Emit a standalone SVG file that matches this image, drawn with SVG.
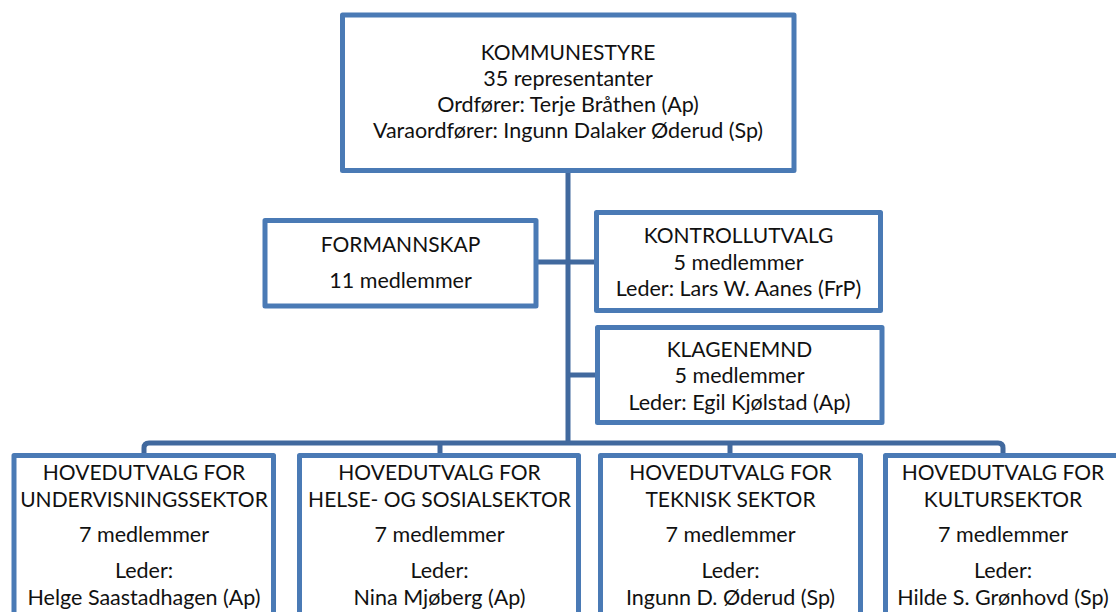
<svg xmlns="http://www.w3.org/2000/svg" width="1116" height="612" viewBox="0 0 1116 612">
<style>
.box{fill:#fff;stroke:#4A7AB5;stroke-width:5;stroke-linejoin:round}
.con{fill:none;stroke:#41699E;stroke-width:5;stroke-linejoin:round}
text{font-family:Lato,"Liberation Sans",Arial,sans-serif;font-size:21.5px;fill:#111;text-anchor:middle}
.u{font-size:21px}
</style>
<rect width="1116" height="612" fill="#fff"/>
<g id="connectors">
<path class="con" d="M568,172 V443"/>
<path class="con" d="M538,262 H594"/>
<path class="con" d="M568,375 H595"/>
<path class="con" d="M144,453 V448 Q144,443 149,443 H998 Q1003,443 1003,448 V453"/>
<path class="con" d="M440,443 V453"/>
<path class="con" d="M730,443 V453"/>
</g>
<g id="kommunestyre">
<rect class="box" x="342.5" y="15" width="451.5" height="155.5"/>
<text class="u" x="568" y="60">KOMMUNESTYRE</text>
<text x="568" y="86">35 representanter</text>
<text x="568" y="112">Ordfører: Terje Bråthen (Ap)</text>
<text x="568" y="138">Varaordfører: Ingunn Dalaker Øderud (Sp)</text>
</g>
<g id="formannskap">
<rect class="box" x="265" y="220.5" width="271" height="85.5"/>
<text class="u" x="400.5" y="252">FORMANNSKAP</text>
<text x="400.5" y="288">11 medlemmer</text>
</g>
<g id="kontrollutvalg">
<rect class="box" x="596.5" y="212.5" width="284" height="98"/>
<text class="u" x="738.5" y="243">KONTROLLUTVALG</text>
<text x="738.5" y="269.5">5 medlemmer</text>
<text x="738.5" y="296">Leder: Lars W. Aanes (FrP)</text>
</g>
<g id="klagenemnd">
<rect class="box" x="597.5" y="327.5" width="284.5" height="95"/>
<text class="u" x="739.5" y="357">KLAGENEMND</text>
<text x="739.5" y="383">5 medlemmer</text>
<text x="739.5" y="409.5">Leder: Egil Kjølstad (Ap)</text>
</g>
<g id="undervisning">
<rect class="box" x="14" y="455.5" width="259.5" height="180"/>
<text class="u" x="144" y="480">HOVEDUTVALG FOR</text>
<text class="u" x="144" y="507">UNDERVISNINGSSEKTOR</text>
<text x="144" y="542">7 medlemmer</text>
<text x="144" y="578">Leder:</text>
<text x="144" y="605">Helge Saastadhagen (Ap)</text>
</g>
<g id="helse">
<rect class="box" x="299.5" y="455.5" width="279" height="180"/>
<text class="u" x="439.5" y="480">HOVEDUTVALG FOR</text>
<text class="u" x="439.5" y="507">HELSE- OG SOSIALSEKTOR</text>
<text x="439.5" y="542">7 medlemmer</text>
<text x="439.5" y="578">Leder:</text>
<text x="439.5" y="605">Nina Mjøberg (Ap)</text>
</g>
<g id="teknisk">
<rect class="box" x="600.5" y="455.5" width="260" height="180"/>
<text class="u" x="730.5" y="480">HOVEDUTVALG FOR</text>
<text class="u" x="730.5" y="507">TEKNISK SEKTOR</text>
<text x="730.5" y="542">7 medlemmer</text>
<text x="730.5" y="578">Leder:</text>
<text x="730.5" y="605">Ingunn D. Øderud (Sp)</text>
</g>
<g id="kultur">
<rect class="box" x="885.5" y="455.5" width="235" height="180"/>
<text class="u" x="1003" y="480">HOVEDUTVALG FOR</text>
<text class="u" x="1003" y="507">KULTURSEKTOR</text>
<text x="1003" y="542">7 medlemmer</text>
<text x="1003" y="578">Leder:</text>
<text x="1003" y="605">Hilde S. Grønhovd (Sp)</text>
</g>
</svg>
